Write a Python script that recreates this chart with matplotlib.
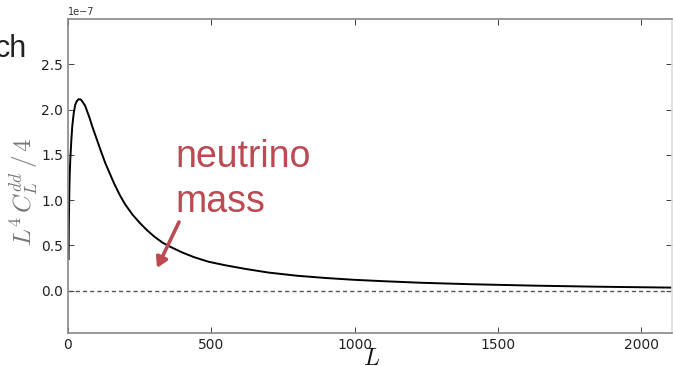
import matplotlib
matplotlib.use("Agg")
import matplotlib.pyplot as plt

plt.rcParams["mathtext.fontset"] = "cm"

# Data (values in units of 1e-7)
L_vals = [2, 3, 4.6, 6, 8, 11.6, 15, 20, 25, 30, 37, 45, 52, 60, 68, 75, 85, 95,
          105, 115, 130, 145, 160, 180, 200, 225, 250, 275, 300, 330, 360, 400,
          440, 490, 550, 620, 700, 800, 900, 1000, 1100, 1228, 1400, 1623, 1850,
          2110]
power_vals = [0.35, 0.75, 1.09, 1.28, 1.45, 1.66, 1.82, 1.96, 2.05, 2.09, 2.115,
              2.11, 2.08, 2.04, 1.97, 1.91, 1.81, 1.72, 1.63, 1.54, 1.41, 1.30,
              1.19, 1.06, 0.95, 0.84, 0.75, 0.67, 0.60, 0.53, 0.48, 0.42, 0.37,
              0.32, 0.28, 0.24, 0.20, 0.165, 0.14, 0.12, 0.105, 0.088, 0.072,
              0.056, 0.044, 0.034]
x_ticks = [0, 500, 1000, 1500, 2000]
y_ticks = [0.0, 0.5, 1.0, 1.5, 2.0, 2.5]

scale = 1e-7
fig = plt.figure(figsize=(6.73, 3.66), dpi=100)
ax = fig.add_axes([68 / 673, 33 / 366, (672 - 68) / 673, (333 - 19) / 366])

ax.plot(L_vals, [v * scale for v in power_vals], color="black", lw=1.4)
ax.axhline(0, color="#555555", lw=1.0, dashes=(3, 2.2))

ax.set_xlim(0, 2107)
ax.set_ylim(-0.467 * scale, 3.0 * scale)
ax.set_xticks(x_ticks)
ax.set_yticks([t * scale for t in y_ticks])
ax.set_yticklabels([f"{t:.1f}" for t in y_ticks])
ax.tick_params(direction="in", top=True, right=True, length=4, width=0.6,
               labelsize=10, colors="#222222")
for side, sp in ax.spines.items():
    sp.set_color("#888888")
    sp.set_linewidth(1.2)
ax.spines["right"].set_color("#dddddd")

ax.text(0, 1.005, "1e\u22127", transform=ax.transAxes, fontsize=7,
        color="#333333", va="bottom", ha="left")

ax.set_xlabel("$L$", fontsize=17, color="#111111")
ax.xaxis.set_label_coords(0.503, -0.040)
ax.set_ylabel(r"$L^4\,C_L^{dd}\,/\,4$", fontsize=18, color="#777777")
ax.yaxis.set_label_coords(-0.043, 0.449)

red = "#bb4a52"
fig.text(175 / 673, 1 - 167 / 366, "neutrino", fontsize=27, color=red,
         family="Liberation Sans", ha="left", va="baseline")
fig.text(175 / 673, 1 - 212 / 366, "mass", fontsize=27, color=red,
         family="Liberation Sans", ha="left", va="baseline")
fig.text(27 / 673, 1 - 57 / 366, "ch", fontsize=22, color="#222222",
         family="Liberation Sans", ha="right", va="baseline")

ax.annotate("", xy=(157 / 673, 1 - 268 / 366), xycoords="figure fraction",
            xytext=(179 / 673, 1 - 222 / 366), textcoords="figure fraction",
            arrowprops=dict(arrowstyle="-|>,head_length=0.6,head_width=0.35",
                            color=red, lw=2.6, shrinkA=0, shrinkB=0))

fig.savefig("out.png", dpi=100)
